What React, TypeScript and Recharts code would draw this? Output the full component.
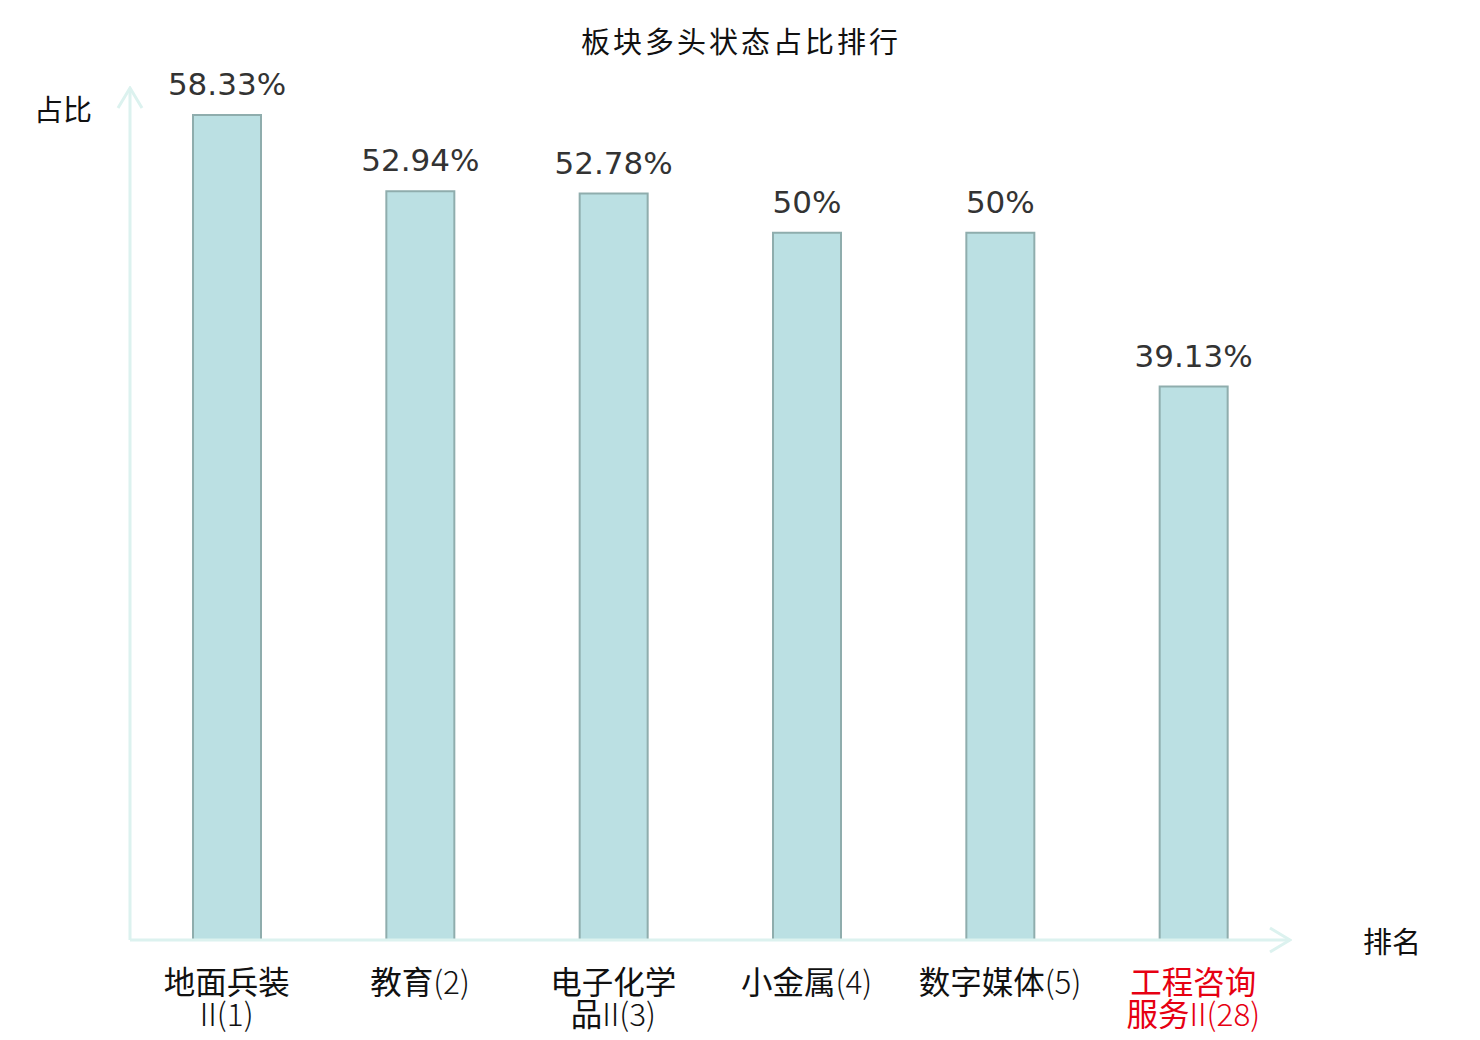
import React from 'react';
import { BarChart, Bar, XAxis, YAxis, LabelList } from 'recharts';

const categories = ['地面兵装\nII(1)', '教育(2)', '电子化学\n品II(3)', '小金属(4)', '数字媒体(5)', '工程咨询\n服务II(28)'];
const values = [58.33, 52.94, 52.78, 50, 50, 39.13];
const highlighted = ['工程咨询\n服务II(28)'];
const yMax = 60.24;

const data = categories.map((c, i) => ({ name: c, value: values[i] }));

const CJK = '"Noto Sans CJK SC", "Noto Sans", sans-serif';
const LATIN = '"DejaVu Sans", sans-serif';

const splitRuns = (s: string) => {
  const runs: { t: string; latin: boolean }[] = [];
  for (const ch of s) {
    const latin = ch.charCodeAt(0) < 0x2e80;
    const last = runs[runs.length - 1];
    if (last && last.latin === latin) last.t += ch;
    else runs.push({ t: ch, latin });
  }
  return runs;
};

const Tick = (props: any) => {
  const { x, y, payload } = props;
  const lines = String(payload.value).split('\n');
  const red = highlighted.includes(payload.value);
  return (
    <text
      x={x}
      y={y + 54}
      textAnchor="middle"
      fontFamily={CJK}
      fontSize={31.5}
      fill={red ? '#e60012' : '#111'}
    >
      {lines.map((ln: string, i: number) => (
        <tspan key={i} x={x} dy={i === 0 ? 0 : 32}>
          {splitRuns(ln).map((r, j) => (
            <tspan key={j} fontWeight={r.latin ? 300 : 400}>
              {r.t}
            </tspan>
          ))}
        </tspan>
      ))}
    </text>
  );
};

const axisStyle = { stroke: '#dcf2ef', strokeWidth: 3 };

export default function App() {
  return (
    <div style={{ position: 'absolute', left: 0, top: 0, width: 1480, height: 1040, background: '#fff' }}>
      <svg width={0} height={0} style={{ position: 'absolute' }}>
        <defs>
          <marker
            id="axisArrow"
            viewBox="0 0 24 28"
            refX={22}
            refY={14}
            markerWidth={24}
            markerHeight={28}
            markerUnits="userSpaceOnUse"
            orient="auto-start-reverse"
          >
            <path d="M2,2 L22,14 L2,26" fill="none" stroke="#dcf2ef" strokeWidth={3} />
          </marker>
        </defs>
      </svg>
      <BarChart
        width={1480}
        height={1040}
        data={data}
        margin={{ top: 88, right: 190, bottom: 40, left: 100 }}
      >
        <XAxis
          dataKey="name"
          height={60}
          axisLine={{ ...axisStyle, markerEnd: 'url(#axisArrow)' } as any}
          tickLine={false}
          tickSize={0}
          tickMargin={0}
          interval={0}
          tick={<Tick />}
        />
        <YAxis
          width={30}
          domain={[0, yMax]}
          tick={false}
          tickLine={false}
          axisLine={{ ...axisStyle, markerStart: 'url(#axisArrow)' } as any}
        />
        <Bar
          dataKey="value"
          barSize={68}
          fill="#bbe0e3"
          stroke="#8fadad"
          strokeWidth={2}
          isAnimationActive={false}
        >
          <LabelList
            dataKey="value"
            position="top"
            offset={20}
            formatter={(v: any) => `${v}%`}
            style={{ fontFamily: LATIN, fontSize: 31, fill: '#333' }}
          />
        </Bar>
      </BarChart>
      <svg width={1480} height={1040} style={{ position: 'absolute', left: 0, top: 0, pointerEvents: 'none' }}>
        <text x={741} y={53} textAnchor="middle" fontFamily={CJK} fontSize={29} letterSpacing={3} fill="#111">
          板块多头状态占比排行
        </text>
        <text x={63} y={121} textAnchor="middle" fontFamily={CJK} fontSize={29} fill="#111">
          占比
        </text>
        <text x={1392} y={953} textAnchor="middle" fontFamily={CJK} fontSize={29} fill="#111">
          排名
        </text>
      </svg>
    </div>
  );
}
